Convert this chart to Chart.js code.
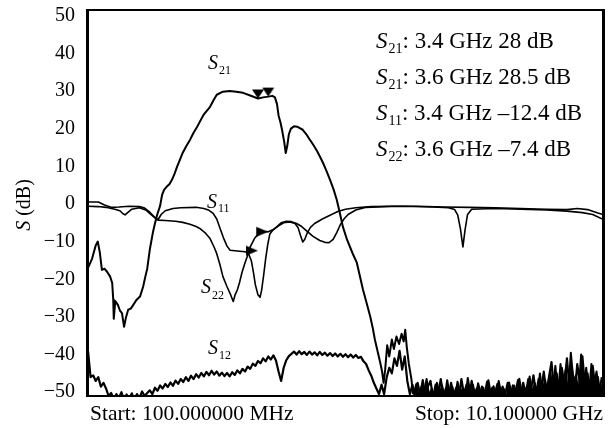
<!DOCTYPE html>
<html>
<head>
<meta charset="utf-8">
<script src="https://cdn.jsdelivr.net/npm/chart.js@4/dist/chart.umd.min.js"></script>
<style>
  html, body { margin: 0; padding: 0; background: #fff; }
  #wrap { width: 612px; height: 428px; }
</style>
</head>
<body>
<div id="wrap"><canvas id="sparams" width="612" height="428"></canvas></div>
<script>
// ===== S-PARAMETER SWEEP (100 MHz - 10.1 GHz) =====

const freqStart = 0.1;   // GHz
const freqStop = 10.1;   // GHz
const yTickValues = [-50, -40, -30, -20, -10, 0, 10, 20, 30, 40, 50];

// S21 trace, [GHz, dB]
const s21Trace = [
    [0.10, -17.0], [0.18, -14.5], [0.25, -11.0], [0.29, -10.0], [0.33, -12.9], [0.37, -17.5],
    [0.42, -17.2], [0.47, -18.0], [0.53, -19.3], [0.57, -21.0], [0.59, -25.4], [0.60, -30.5],
    [0.63, -25.8], [0.68, -26.8], [0.72, -28.3], [0.76, -29.0], [0.80, -32.6], [0.84, -30.0],
    [0.88, -28.1], [0.93, -27.8], [0.97, -27.0], [1.04, -25.5], [1.11, -24.6], [1.17, -22.0],
    [1.21, -19.5], [1.25, -17.2], [1.30, -12.1], [1.36, -7.6], [1.40, -5.2], [1.44, -3.0],
    [1.50, -0.5], [1.54, 2.5], [1.58, 3.8], [1.63, 4.6], [1.68, 5.2], [1.73, 6.4],
    [1.78, 8.0], [1.83, 9.9], [1.88, 11.6], [1.94, 13.6], [2.01, 15.4], [2.08, 17.0],
    [2.15, 18.9], [2.22, 20.5], [2.27, 21.8], [2.35, 23.8], [2.47, 25.8], [2.54, 27.6],
    [2.60, 29.0], [2.72, 29.8], [2.85, 30.0], [2.98, 29.8], [3.11, 29.5], [3.25, 28.8],
    [3.40, 28.0], [3.50, 28.3], [3.60, 28.5], [3.68, 28.7], [3.73, 28.3], [3.77, 26.5],
    [3.80, 23.5], [3.84, 21.5], [3.87, 19.5], [3.91, 16.5], [3.94, 13.5], [3.97, 15.5],
    [4.00, 18.5], [4.04, 20.0], [4.10, 20.6], [4.16, 20.5], [4.27, 19.7], [4.34, 18.5],
    [4.41, 17.0], [4.48, 15.6], [4.55, 14.0], [4.61, 12.4], [4.66, 11.0], [4.73, 8.8],
    [4.80, 6.4], [4.87, 3.8], [4.93, 1.1], [4.99, -2.4], [5.05, -6.1], [5.13, -9.5],
    [5.19, -11.5], [5.25, -13.5], [5.32, -15.6], [5.38, -19.2], [5.44, -22.8], [5.51, -26.3],
    [5.58, -29.9], [5.63, -33.0], [5.67, -36.0], [5.73, -39.5], [5.78, -42.5], [5.81, -44.5],
    [5.84, -47.5], [5.87, -44.0], [5.91, -37.5], [5.95, -40.5], [6.00, -36.0], [6.04, -38.5],
    [6.09, -35.2], [6.14, -37.2], [6.19, -34.5], [6.23, -36.5], [6.26, -33.4], [6.29, -38.0],
    [6.33, -42.5], [6.38, -46.5], [6.41, -50.5]
];

// S21 noise floor after the stopband bump
const s21FloorStart = 6.425;
const s21FloorStep = 0.05;
const s21Floor = [
    -50.5, -47.8, -51.5, -48.5, -50.2, -46.5, -51, -49, -52, -47.5,
    -50.5, -48.2, -51.6, -46.8, -50.8, -48.6, -52, -47.2, -50.4, -49,
    -51.8, -46.2, -50.6, -48, -51.5, -47.6, -50.2, -48.8, -52, -46.8,
    -50.8, -48.4, -51.2, -47, -50.5, -49.2, -51.8, -47.4, -50.2, -48.2,
    -51.4, -46.4, -50.6, -48.8, -52, -45.8, -50.4, -47.6, -51, -45,
    -49.8, -46.6, -51.2, -44.5, -49.5, -43, -50.6, -42.5, -48.5, -44,
    -50.8, -39.5, -47, -45.5, -50.2, -40, -48.2, -43.5, -51, -42.5,
    -47.8, -44.5, -50.5, -46
];

// S11 trace, [GHz, dB]
const s11Trace = [
    [0.10, 0.5], [0.30, 0.5], [0.42, -0.3], [0.55, -0.9], [0.70, -0.8], [0.90, -0.6],
    [1.10, -0.7], [1.20, -1.1], [1.30, -2.2], [1.40, -3.6], [1.46, -4.2], [1.52, -2.8],
    [1.60, -1.8], [1.75, -1.2], [1.90, -1.0], [2.20, -0.9], [2.35, -1.2], [2.45, -1.7],
    [2.53, -2.5], [2.60, -4.0], [2.66, -6.3], [2.73, -9.0], [2.80, -11.2], [2.86, -12.3],
    [3.00, -12.5], [3.15, -12.7], [3.21, -13.0], [3.27, -15.0], [3.31, -18.0], [3.35, -21.5],
    [3.40, -24.1], [3.44, -24.8], [3.47, -23.0], [3.51, -19.0], [3.55, -14.5], [3.59, -10.8],
    [3.63, -8.0], [3.70, -6.8], [3.77, -6.0], [3.85, -5.0], [3.95, -4.6], [4.05, -4.7],
    [4.15, -5.2], [4.25, -6.0], [4.35, -7.2], [4.47, -8.6], [4.60, -9.7], [4.70, -10.2],
    [4.78, -10.3], [4.86, -9.4], [4.93, -7.6], [5.00, -5.5], [5.07, -4.0], [5.15, -2.8],
    [5.30, -1.6], [5.50, -0.9], [6.00, -0.6], [6.50, -0.6], [7.00, -0.8], [7.50, -0.9],
    [8.00, -1.0], [8.50, -1.2], [9.00, -1.4], [9.40, -1.5], [9.60, -1.2], [9.80, -1.5],
    [10.00, -2.4], [10.10, -2.8]
];

// S22 trace, [GHz, dB]
const s22Trace = [
    [0.10, -0.6], [0.30, -0.7], [0.45, -0.9], [0.62, -1.4], [0.72, -1.8], [0.78, -2.6],
    [0.82, -2.9], [0.87, -2.3], [0.95, -1.4], [1.10, -1.0], [1.22, -1.6], [1.32, -2.8],
    [1.40, -3.7], [1.46, -4.3], [1.60, -4.4], [1.80, -4.6], [1.94, -4.9], [2.08, -5.4],
    [2.20, -6.0], [2.27, -6.5], [2.37, -7.6], [2.47, -9.2], [2.55, -11.5], [2.60, -13.2],
    [2.66, -16.0], [2.72, -19.3], [2.80, -22.0], [2.86, -23.8], [2.92, -25.9], [2.96, -24.0],
    [3.00, -22.8], [3.04, -21.0], [3.09, -18.2], [3.14, -16.0], [3.19, -14.0], [3.25, -11.4],
    [3.34, -9.0], [3.44, -7.6], [3.52, -7.3], [3.60, -7.4], [3.70, -6.8], [3.80, -5.8],
    [3.90, -5.0], [4.02, -4.8], [4.12, -5.2], [4.18, -6.3], [4.23, -8.5], [4.27, -10.1],
    [4.31, -9.4], [4.36, -7.6], [4.42, -6.2], [4.50, -5.2], [4.65, -4.0], [4.80, -3.0],
    [4.95, -2.0], [5.10, -1.4], [5.30, -1.0], [5.60, -0.7], [6.20, -0.6], [6.80, -0.8],
    [7.10, -1.0], [7.22, -1.5], [7.28, -3.0], [7.33, -6.5], [7.38, -11.4], [7.42, -7.0],
    [7.47, -2.8], [7.55, -1.4], [8.00, -1.2], [8.50, -1.4], [9.00, -1.6], [9.40, -1.9],
    [9.70, -2.3], [9.90, -2.8], [10.10, -4.1]
];

// S12 over the whole sweep, one reading every 50 MHz
const s12Start = 0.1;
const s12Step = 0.05;
const s12Level = [
    -39, -46, -45.5, -47, -46, -48.5, -47.5, -49, -51, -50.2, -52, -50.5, -51.5, -50, -52, -50.6, -51.8, -50.3, -52, -50.5,
    -51.5, -49.8, -51, -50.2, -49.5, -50.5, -48.8, -49.6, -48.2, -49, -47.8, -48.6, -47.4, -48.3, -46.9, -47.8, -46.5, -47.3, -46, -47,
    -45.6, -46.5, -45.2, -46.1, -44.9, -45.8, -44.6, -45.5, -44.3, -45.3, -44.5, -45.6, -44.8, -45.7, -44.9, -45.8, -44.7, -45.4, -44.2, -45,
    -43.8, -44.5, -43.2, -43.8, -42.4, -43, -41.7, -42.3, -41, -41.8, -40.5, -41.3, -40.2, -41.6, -44.5, -47, -43.5, -41.5, -40.4, -39.8,
    -39.2, -40, -39.1, -39.9, -39.3, -40.1, -39.2, -40, -39.4, -40.2, -39.3, -40.1, -39.5, -40.3, -39.6, -40.4, -39.7, -40.5, -39.8, -40.6,
    -39.9, -40.7, -40, -40.8, -40.1, -40.9, -40.6, -41.8, -42.5, -44.2, -45.6, -47.5, -49, -50.5, -48, -50.5, -46, -43.5, -45, -41,
    -43, -39, -44, -40.5, -47, -50.5, -48, -51.5, -47.5, -50.8, -46.8, -51, -48.5, -47, -51.5, -48, -50.5, -46.5, -51, -49,
    -51.5, -47.5, -50.8, -48.8, -52, -46.5, -50.5, -48, -51.5, -47, -50.5, -49, -52, -48.5, -50.8, -47.2, -51, -48.8, -50.5, -47.8,
    -51.2, -48.5, -50.6, -47.5, -51.4, -48.2, -50.2, -46.8, -51, -47.5, -50.5, -46.5, -49.5, -45.5, -50.5, -46.5, -49.8, -44.5, -50.2, -46,
    -42, -49.5, -45, -50.5, -43.5, -48, -41, -49, -44, -50.5, -42.5, -47.5, -40.5, -48.5, -45, -50.5, -43, -49, -46, -51, -47.5
];

// Marker readouts
const s21Markers = [[3.4, 28], [3.6, 28.5]];
const s11Marker = [[3.4, -12.4]];
const s22Marker = [[3.6, -7.4]];
const markerReadouts = [
    { sub: '21', text: ': 3.4 GHz 28 dB' },
    { sub: '21', text: ': 3.6 GHz 28.5 dB' },
    { sub: '11', text: ': 3.4 GHz \u201312.4 dB' },
    { sub: '22', text: ': 3.6 GHz \u20137.4 dB' }
];

const SERIF = '"Liberation Serif", "Times New Roman", serif';

// build {x, y} points from the tables
const toPoints = pairs => pairs.map(p => ({ x: p[0], y: p[1] }));
const stepPoints = (start, step, values) => values.map((v, i) => ({ x: start + i * step, y: v }));

// triangle marker sprites: the tip sits at the sprite centre, i.e. on the data point
function downTriangle() {
    const c = document.createElement('canvas');
    c.width = 14; c.height = 20;
    const g = c.getContext('2d');
    g.fillStyle = '#000';
    g.beginPath();
    g.moveTo(1, 1); g.lineTo(13, 1); g.lineTo(7, 10);
    g.closePath(); g.fill();
    return c;
}

function rightTriangle() {
    const c = document.createElement('canvas');
    c.width = 26; c.height = 12;
    const g = c.getContext('2d');
    g.fillStyle = '#000';
    g.beginPath();
    g.moveTo(1, 1); g.lineTo(1, 11); g.lineTo(13, 6);
    g.closePath(); g.fill();
    return c;
}

// italic S with a subscript, optional plain text after it
function drawSName(ctx, x, y, sub, rest, size, subSize, subDrop) {
    ctx.font = `italic ${size}px ${SERIF}`;
    ctx.fillText('S', x, y);
    let w = ctx.measureText('S').width + 1;
    ctx.font = `${subSize}px ${SERIF}`;
    ctx.fillText(sub, x + w, y + subDrop);
    w += ctx.measureText(sub).width;
    if (rest) {
        ctx.font = `${size}px ${SERIF}`;
        ctx.fillText(rest, x + w, y);
    }
}

const annotationsPlugin = {
    id: 'annotations',
    afterDraw(chart) {
        const ctx = chart.ctx;
        const { left, right, top, bottom } = chart.chartArea;
        ctx.save();

        // frame, heavier on the sides
        ctx.fillStyle = '#000';
        ctx.fillRect(left - 1, top - 1, right - left + 2, 2);
        ctx.fillRect(left - 1, bottom - 1, right - left + 2, 2);
        ctx.fillRect(left - 2, top - 1, 3, bottom - top + 2);
        ctx.fillRect(right - 1, top - 1, 3, bottom - top + 2);

        ctx.textBaseline = 'alphabetic';
        ctx.textAlign = 'left';

        // trace names
        drawSName(ctx, 208, 69, '21', null, 20, 12, 5);
        drawSName(ctx, 207, 208, '11', null, 20, 12, 4);
        drawSName(ctx, 201, 293, '22', null, 20, 12, 6);
        drawSName(ctx, 208, 354, '12', null, 20, 12, 5);

        // marker readout block
        markerReadouts.forEach((r, i) => {
            drawSName(ctx, 376, 48 + i * 36, r.sub, r.text, 23, 14, 5);
        });

        // sweep limits
        ctx.font = `21.5px ${SERIF}`;
        ctx.fillText('Start: 100.000000 MHz', 90, 420);
        ctx.textAlign = 'right';
        ctx.fillText('Stop: 10.100000 GHz', 603, 420);

        // y axis title, rotated
        ctx.translate(30, 205);
        ctx.rotate(-Math.PI / 2);
        ctx.textAlign = 'left';
        ctx.font = `italic 20px ${SERIF}`;
        const wS = ctx.measureText('S').width;
        ctx.font = `20px ${SERIF}`;
        const wRest = ctx.measureText(' (dB)').width;
        const x0 = -(wS + wRest) / 2;
        ctx.font = `italic 20px ${SERIF}`;
        ctx.fillText('S', x0, 0);
        ctx.font = `20px ${SERIF}`;
        ctx.fillText(' (dB)', x0 + wS, 0);

        ctx.restore();
    }
};

const traceStyle = {
    borderColor: '#000',
    borderWidth: 1.6,
    pointRadius: 0,
    tension: 0,
    fill: false,
    borderJoinStyle: 'round'
};

new Chart(document.getElementById('sparams'), {
    type: 'line',
    data: {
        datasets: [
            { label: 'S21 markers', data: toPoints(s21Markers), showLine: false, pointStyle: downTriangle(), pointRadius: 6 },
            { label: 'S11 marker', data: toPoints(s11Marker), showLine: false, pointStyle: rightTriangle(), pointRadius: 6 },
            { label: 'S22 marker', data: toPoints(s22Marker), showLine: false, pointStyle: rightTriangle(), pointRadius: 6 },
            { label: 'S21', data: toPoints(s21Trace), ...traceStyle, borderWidth: 2 },
            // the stopband floor is dense analyser noise: shade under it down to the frame
            {
                label: 'S21 floor',
                data: stepPoints(s21FloorStart, s21FloorStep, s21Floor),
                ...traceStyle,
                borderWidth: 2,
                fill: 'start',
                backgroundColor: '#000'
            },
            { label: 'S11', data: toPoints(s11Trace), ...traceStyle },
            { label: 'S22', data: toPoints(s22Trace), ...traceStyle },
            { label: 'S12', data: stepPoints(s12Start, s12Step, s12Level), ...traceStyle, borderWidth: 2.2 }
        ]
    },
    options: {
        responsive: false,
        animation: false,
        devicePixelRatio: 1,
        layout: { padding: { left: 0, top: 10, right: 9, bottom: 32 } },
        plugins: {
            legend: { display: false },
            tooltip: { enabled: false }
        },
        scales: {
            x: {
                type: 'linear',
                min: freqStart,
                max: freqStop,
                display: false
            },
            y: {
                min: -51,
                max: 51.5,
                afterBuildTicks: scale => {
                    scale.ticks = yTickValues.map(v => ({ value: v }));
                },
                afterFit: scale => {
                    scale.width = 88;
                    scale.paddingTop = 0;
                    scale.paddingBottom = 0;
                },
                grid: { display: false, drawTicks: false },
                border: { display: false },
                ticks: {
                    padding: 13,
                    color: '#000',
                    font: { family: SERIF, size: 20 },
                    callback: v => (v < 0 ? '\u2212' + Math.abs(v) : String(v))
                }
            }
        }
    },
    plugins: [annotationsPlugin]
});
</script>
</body>
</html>
